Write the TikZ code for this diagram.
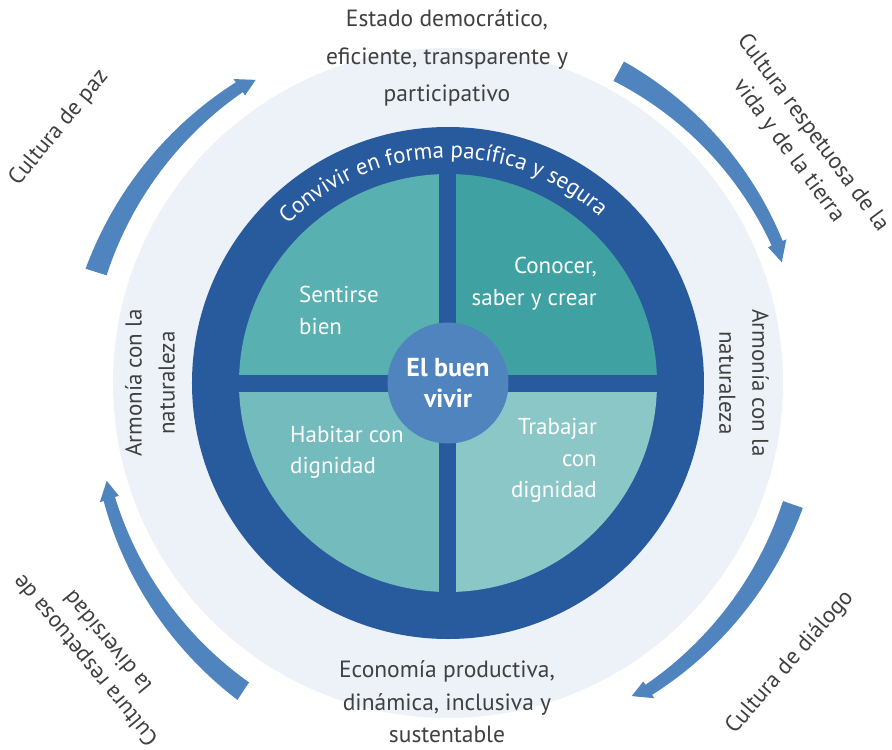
\documentclass[tikz,border=0pt]{standalone}
\usepackage{fontspec}
\setmainfont{PT Sans}
\usetikzlibrary{decorations.text}
\definecolor{pale}{HTML}{EDF2F8}
\definecolor{ring}{HTML}{285A9E}
\definecolor{qtl}{HTML}{59B0B0}
\definecolor{qtr}{HTML}{40A1A3}
\definecolor{qbl}{HTML}{73BBBD}
\definecolor{qbr}{HTML}{8CC7C8}
\definecolor{mid}{HTML}{4F84BE}
\definecolor{txtgray}{HTML}{404040}
% tapered curved arrow: #1 th0, #2 th1 (head base), #3 th2 (tip), #4 r0, #5 r1, #6 w0, #7 w1, #8 head half width, #9 tip radius
\newcommand\taperarrow[9]{%
  \fill[mid] plot[domain=0:1,samples=40,smooth] ({#1+(#2-#1)*\x}:{#4+(#5-#4)*\x+#6+(#7-#6)*\x})
   -- ({#2}:{#5+#8}) -- ({#3}:{#9}) -- ({#2}:{#5-#8})
   -- plot[domain=0:1,samples=40,smooth] ({#1+(#2-#1)*(1-\x)}:{#4+(#5-#4)*(1-\x)-#6-(#7-#6)*(1-\x)})
   -- cycle;}
\begin{document}
\begin{tikzpicture}[x=1pt,y=1pt,
  lbl/.style={text=txtgray, align=center, inner sep=0pt},
  qlbl/.style={text=white, inner sep=0pt}]
\useasboundingbox (-448,-367) rectangle (444,383);
\fill[white] (-448,-367) rectangle (444,383);
% circles
\fill[pale] (0,0) circle (335);
\fill[ring] (0,0) circle (256);
\fill[qtl] (0,0) -- (180:209) arc[start angle=180,end angle=90,radius=209] -- cycle;
\fill[qtr] (0,0) -- (90:209) arc[start angle=90,end angle=0,radius=209] -- cycle;
\fill[qbl] (0,0) -- (180:209) arc[start angle=180,end angle=270,radius=209] -- cycle;
\fill[qbr] (0,0) -- (270:209) arc[start angle=270,end angle=360,radius=209] -- cycle;
\fill[ring] (-215,-9) rectangle (215,8);
\fill[ring] (-9,-215) rectangle (8,215);
\node[circle, fill=mid, minimum size=121pt, inner sep=0pt, text=white, align=center,
  font=\fontsize{26}{31}\selectfont\bfseries] (core) at (0,0) {El buen\\vivir};
% ring text
\path[decorate, decoration={text along path, text align=center,
  text={|\color{white}\fontsize{23}{23}\selectfont|Convivir en forma pac{í}fica y segura}}]
  (181.5:225) arc[start angle=181.5,end angle=1.5,radius=225];
% quadrant labels
\node[qlbl, align=left, anchor=west, font=\fontsize{23}{32}\selectfont] (q1) at (-149,73) {Sentirse\\bien};
\node[qlbl, align=right, anchor=east, font=\fontsize{23}{32}\selectfont] (q2) at (149,99) {Conocer,\\saber y crear};
\node[qlbl, align=left, anchor=west, font=\fontsize{23}{31}\selectfont] (q3) at (-158,-69.5) {Habitar con\\dignidad};
\node[qlbl, align=right, anchor=east, font=\fontsize{23}{31.5}\selectfont] (q4) at (149,-77.5) {Trabajar\\con\\dignidad};
% outer labels
\node[lbl, font=\fontsize{23.5}{37.5}\selectfont] (top) at (-1,325) {Estado democrático,\\eficiente, transparente y\\participativo};
\node[lbl, font=\fontsize{23.5}{32.5}\selectfont] (bot) at (-1,-319) {Economía productiva,\\dinámica, inclusiva y\\sustentable};
\node[lbl, rotate=90, font=\fontsize{23}{33}\selectfont] (left) at (-298,0) {Armonía con la\\naturaleza};
\node[lbl, rotate=-90, font=\fontsize{23}{33}\selectfont] (right) at (296,0) {Armonía con la\\naturaleza};
% arrows
\taperarrow{162.5}{125.2}{122.4}{369}{362}{11}{6}{10}{359}
\taperarrow{61.3}{23.0}{19.9}{355.5}{357.6}{11}{6}{10}{355}
\taperarrow{236.4}{198.9}{196.0}{370}{358}{10.5}{6}{10}{355}
\taperarrow{-19.4}{-56.8}{-59.6}{365.7}{366.7}{10.5}{6}{10}{363}
% arrow labels
\node[lbl, rotate=50.5, font=\fontsize{23}{30}\selectfont] (a1) at (-389,255) {Cultura de paz};
\node[lbl, rotate=-53.5, font=\fontsize{23}{30}\selectfont] (a2) at (352.5,241) {Cultura respetuosa de la\\vida y de la tierra};
\node[lbl, rotate=129.5, font=\fontsize{23}{29}\selectfont] (a3) at (-352,-269) {Cultura respetuosa de\\la diversidad};
\node[lbl, rotate=49, font=\fontsize{23}{30}\selectfont] (a4) at (342,-279.5) {Cultura de diálogo};
\end{tikzpicture}
\end{document}
